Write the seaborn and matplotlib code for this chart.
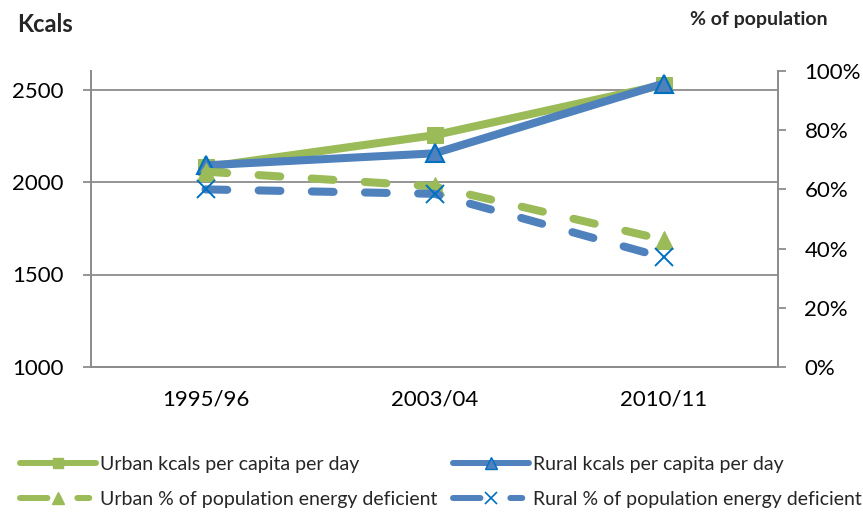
import matplotlib
matplotlib.use("Agg")
import matplotlib.pyplot as plt
from matplotlib.lines import Line2D
import seaborn as sns
import pandas as pd

years = ["1995/96", "2003/04", "2010/11"]
urban_kcal = [2080, 2253, 2525]
rural_kcal = [2090, 2155, 2532]
urban_pct = [66, 61, 43]
rural_pct = [60, 58.5, 37]

left_ticks = [1000, 1500, 2000, 2500]
right_ticks = [0, 20, 40, 60, 80, 100]

GREEN = "#9BBB59"
BLUE = "#4F81BD"
XBLUE = "#0070C0"
GRID = "#8C8C8C"

sns.set_theme(style="white")
plt.rcParams["font.family"] = ["Lato", "DejaVu Sans"]

df = pd.DataFrame({"year": years, "urban_kcal": urban_kcal, "rural_kcal": rural_kcal,
                   "urban_pct": urban_pct, "rural_pct": rural_pct})

fig = plt.figure(figsize=(8.63, 5.12), dpi=100)
W, H = 863, 512
ax = fig.add_axes([91 / W, 1 - 367 / H, (778 - 91) / W, (367 - 71) / H])
ax2 = ax.twinx()

LW = 5.8
dash = (0, (2.7, 3.9))

sns.lineplot(data=df, x="year", y="urban_kcal", ax=ax, color=GREEN, linewidth=LW,
             marker="s", markersize=12, markeredgecolor=GREEN, solid_capstyle="round",
             zorder=4)
sns.lineplot(data=df, x="year", y="rural_kcal", ax=ax, color=BLUE, linewidth=LW,
             marker="^", markersize=13, markerfacecolor=BLUE, markeredgecolor=XBLUE,
             markeredgewidth=1.5, solid_capstyle="round", zorder=5)
sns.lineplot(data=df, x="year", y="urban_pct", ax=ax2, color=GREEN, linewidth=LW,
             linestyle=dash, dash_capstyle="round", marker="^", markersize=13,
             markeredgecolor=GREEN, zorder=2)
sns.lineplot(data=df, x="year", y="rural_pct", ax=ax2, color=BLUE, linewidth=LW,
             linestyle=dash, dash_capstyle="round", marker="x", markersize=13,
             markeredgecolor=XBLUE, markeredgewidth=1.4, zorder=3)

ax.set_xlim(-0.5, 2.5)
ax.set_ylim(1000, 2600)
ax2.set_ylim(0, 100)
ax.set_yticks(left_ticks)
ax2.set_yticks(right_ticks)
ax2.set_yticklabels([f"{v}%" for v in right_ticks])
ax.set_xlabel("")
ax.set_ylabel("")
ax2.set_ylabel("")

ax.grid(axis="y", color=GRID, linewidth=1.3)
ax.grid(axis="x", visible=False)
ax2.grid(False)
ax.set_axisbelow(True)

for a in (ax, ax2):
    a.spines["top"].set_visible(False)
    for s in ("left", "right", "bottom"):
        a.spines[s].set_color(GRID)
        a.spines[s].set_linewidth(1.3)

ax.tick_params(axis="y", which="major", left=True, length=6, width=1.3, color=GRID,
               direction="out", labelsize=16, pad=14, labelcolor="black")
ax2.tick_params(axis="y", which="major", right=True, length=6, width=1.3, color=GRID,
                direction="out", labelsize=16, pad=13, labelcolor="black")
ax.tick_params(axis="x", bottom=False, labelsize=16, pad=10, labelcolor="black")

fig.text(17 / W, 1 - 25 / H, "Kcals", fontsize=17, fontweight="bold", va="center", ha="left")
fig.text(828 / W, 1 - 19 / H, "% of population", fontsize=14, fontweight="bold",
         va="center", ha="right")

dash_leg = (0, (4.6, 5.0, 2.0, 5.0))
h_uk = Line2D([], [], color=GREEN, lw=4.3, marker="s", markersize=7, solid_capstyle="round")
h_rk = Line2D([], [], color=BLUE, lw=4.3, marker="^", markersize=8, markerfacecolor=BLUE,
              markeredgecolor=XBLUE, solid_capstyle="round")
h_up = Line2D([], [], color=GREEN, lw=4.3, marker="^", markersize=8,
              linestyle=dash_leg, dash_capstyle="round")
h_rp = Line2D([], [], color=BLUE, lw=4.3, marker="x", markersize=8, markeredgecolor=XBLUE,
              markeredgewidth=1.2, linestyle=dash_leg, dash_capstyle="round")
handles = [h_uk, h_up, h_rk, h_rp]
labels = ["Urban kcals per capita per day", "Urban % of population energy deficient",
          "Rural kcals per capita per day", "Rural % of population energy deficient"]
leg = fig.legend(handles, labels, loc="center left", bbox_to_anchor=(12 / W, 1 - 482 / H),
                 ncol=2, frameon=False, fontsize=14, handlelength=3.9, handletextpad=0.2,
                 columnspacing=0.85, labelspacing=0.95, numpoints=1, borderaxespad=0.0)

fig.savefig("out.png", dpi=100)
